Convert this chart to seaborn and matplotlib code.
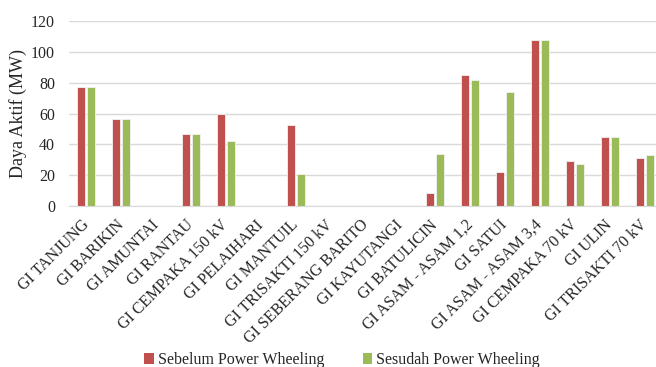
import matplotlib
matplotlib.use("Agg")
import matplotlib.pyplot as plt
import seaborn as sns
import pandas as pd
from matplotlib.patches import Patch

categories = ["GI TANJUNG", "GI BARIKIN", "GI AMUNTAI", "GI RANTAU", "GI CEMPAKA 150 kV",
              "GI PELAIHARI", "GI MANTUIL", "GI TRISAKTI 150 kV", "GI SEBERANG BARITO",
              "GI KAYUTANGI", "GI BATULICIN", "GI ASAM - ASAM 1,2", "GI SATUI",
              "GI ASAM - ASAM 3,4", "GI CEMPAKA 70 kV", "GI ULIN", "GI TRISAKTI 70 kV"]
sebelum = [77.5, 56.5, 0, 47, 60, 0, 52.8, 0, 0, 0, 8.6, 85.3, 21.9, 108.1, 29.2, 44.6, 31.2]
sesudah = [77.5, 56.5, 0, 47, 42.2, 0, 20.8, 0, 0, 0, 33.6, 82.1, 74, 108.1, 27.3, 44.6, 32.9]
series = ["Sebelum Power Wheeling", "Sesudah Power Wheeling"]
colors = ["#C0504D", "#9BBB59"]
yticks = [0, 20, 40, 60, 80, 100, 120]

df = pd.DataFrame({
    "cat": categories * 2,
    "val": sebelum + sesudah,
    "series": [series[0]] * len(categories) + [series[1]] * len(categories),
})

sns.set_style("white")
plt.rcParams["font.family"] = ["Liberation Serif", "DejaVu Serif"]

fig = plt.figure(figsize=(6.56, 3.67), dpi=100)
n = len(categories)
left = 69 / 656
width = (34.9 * n) / 656
ax = fig.add_axes([left, 1 - 206 / 367, width, (206 - 21.3) / 367])

sns.barplot(data=df, x="cat", y="val", hue="series", palette=colors, ax=ax,
            width=0.574, gap=0.2, edgecolor="#F2F2F2", linewidth=0.6,
            legend=False, saturation=1)

ax.set_ylim(0, 120)
ax.set_xlim(-0.5, n - 0.5)
ax.set_yticks(yticks)
ax.set_yticklabels([str(t) for t in yticks], fontsize=11.5)
ax.yaxis.grid(True, color="#D9D9D9", linewidth=1)
ax.set_axisbelow(True)
for s in ["top", "right", "left"]:
    ax.spines[s].set_visible(False)
ax.spines["bottom"].set_color("#D9D9D9")
ax.tick_params(axis="both", length=0)
ax.tick_params(axis="y", pad=10)
ax.set_xlabel("")
ax.set_ylabel("Daya Aktif (MW)", fontsize=13, labelpad=3)
ax.set_xticks(range(n))
ax.set_xticklabels(categories, rotation=45, ha="right", va="center",
                   rotation_mode="anchor", fontsize=11.5)
ax.tick_params(axis="x", pad=12)

handles = [Patch(facecolor=c, edgecolor="none") for c in colors]
fig.legend(handles, series, loc="lower left", bbox_to_anchor=(0.198, -0.042),
           ncol=2, frameon=False, fontsize=11.5, handlelength=0.6, handleheight=0.7,
           handletextpad=0.25, columnspacing=2.4)

fig.savefig("out.png", dpi=100)
